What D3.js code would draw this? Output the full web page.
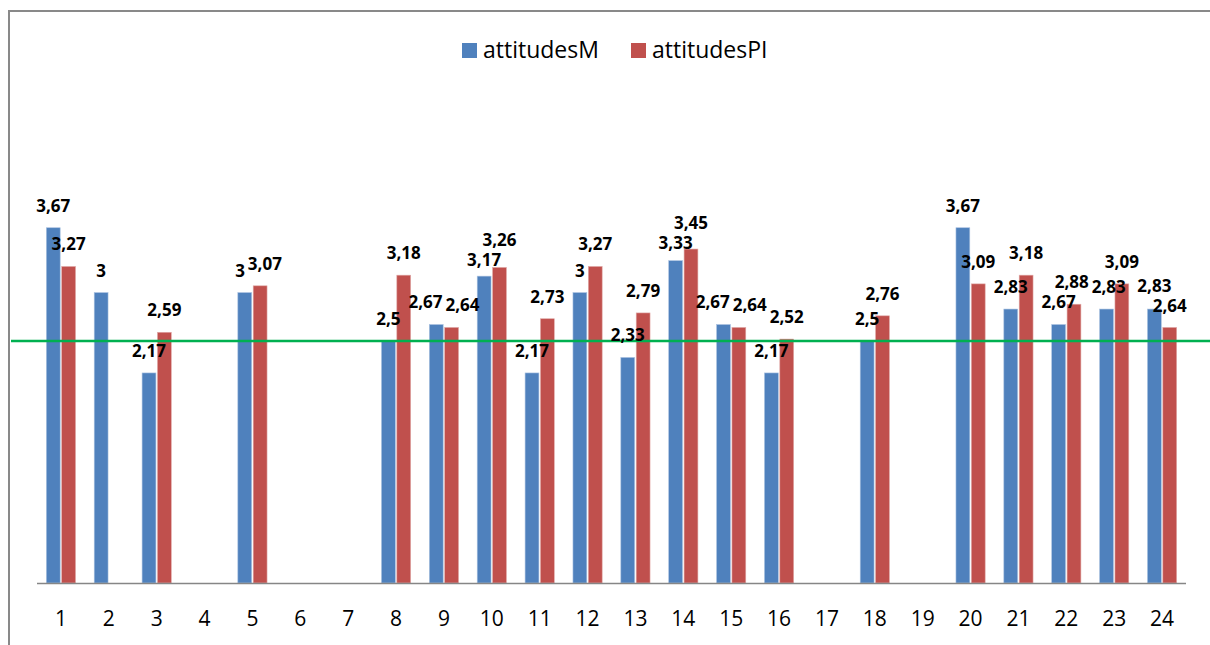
<!DOCTYPE html>
<html>
<head>
<meta charset="utf-8">
<script src="https://cdn.jsdelivr.net/npm/d3@7"></script>
<style>
  body { margin: 0; background: #fff; }
  svg { display: block; }
  .tick-label { font-family: "Open Sans", sans-serif; font-size: 21px; fill: #000; }
  .val-label { font-family: "Open Sans", sans-serif; font-size: 17px; font-weight: bold; fill: #000; }
  .legend-text { font-family: "Open Sans", sans-serif; font-size: 23px; fill: #000; }
</style>
</head>
<body>
<svg id="chart"></svg>
<script>
// categories and series (null = no bar)
const categories = ["1","2","3","4","5","6","7","8","9","10","11","12","13","14","15","16","17","18","19","20","21","22","23","24"];
const attitudesM  = [3.67, 3, 2.17, null, 3, null, null, 2.5, 2.67, 3.17, 2.17, 3, 2.33, 3.33, 2.67, 2.17, null, 2.5, null, 3.67, 2.83, 2.67, 2.83, 2.83];
const attitudesPI = [3.27, null, 2.59, null, 3.07, null, null, 3.18, 2.64, 3.26, 2.73, 3.27, 2.79, 3.45, 2.64, 2.52, null, 2.76, null, 3.09, 3.18, 2.88, 3.09, 2.64];
const seriesNames = ["attitudesM", "attitudesPI"];
const seriesColors = ["#4F81BD", "#C0504D"];
const refValue = 2.5;
const yMax = 6;

const width = 1210, height = 645;
const svg = d3.select("#chart").attr("width", width).attr("height", height);

// plot area
const left = 37, right = 1186, baseY = 583;
const pxPerUnit = 96.8;

const x = d3.scaleBand().domain(categories).range([left, right]).paddingInner(0.39).paddingOuter(0.195);
const xs = d3.scaleBand().domain(seriesNames).range([0, x.bandwidth()]).paddingInner(0.1);
const y = d3.scaleLinear().domain([0, yMax]).range([baseY, baseY - yMax * pxPerUnit]);

// chart frame (only left and top edges visible in the crop)
svg.append("path")
    .attr("d", `M9,${height} L9,11 L${width},11`)
    .attr("fill", "none")
    .attr("stroke", "#898989")
    .attr("stroke-width", 2);

// build points
const points = [];
categories.forEach((c, i) => {
    [attitudesM, attitudesPI].forEach((arr, s) => {
        if (arr[i] != null) points.push({ cat: c, s: s, v: arr[i] });
    });
});

// bars
svg.append("g")
    .selectAll("rect")
    .data(points)
    .enter().append("rect")
    .attr("x", d => x(d.cat) + xs(seriesNames[d.s]))
    .attr("y", d => y(d.v))
    .attr("width", xs.bandwidth())
    .attr("height", d => baseY - y(d.v))
    .attr("fill", d => seriesColors[d.s])
    .attr("stroke", d => d.s === 0 ? "#a9c1e0" : "#e0a9a7")
    .attr("stroke-width", 0.6);

// axis line
svg.append("line")
    .attr("x1", left).attr("x2", right)
    .attr("y1", baseY + 0.5).attr("y2", baseY + 0.5)
    .attr("stroke", "#868686").attr("stroke-width", 1.5);

// category labels
const xAxis = d3.axisBottom(x).tickSize(0).tickPadding(0);
const gx = svg.append("g").attr("transform", `translate(0,${baseY})`).call(xAxis);
gx.select(".domain").remove();
gx.selectAll("text")
    .attr("class", "tick-label")
    .attr("y", 36)
    .attr("dy", "0.35em")
    .attr("font-family", null).attr("font-size", null);

// reference line
svg.append("line")
    .attr("x1", 11).attr("x2", width)
    .attr("y1", y(refValue)).attr("y2", y(refValue))
    .attr("stroke", "#00B050").attr("stroke-width", 2.5);

// value labels
const fmt = v => String(v).replace(".", ",");
const labels = svg.append("g")
    .selectAll("text")
    .data(points)
    .enter().append("text")
    .attr("class", "val-label")
    .attr("text-anchor", "middle")
    .text(d => fmt(d.v));

points.forEach(d => {
    d.lx = x(d.cat) + xs(seriesNames[d.s]) + xs.bandwidth() / 2;
    d.ly = y(d.v) - 22;
});
labels.each(function (d) { d.w = this.getComputedTextLength() + 2; });

// crude label relaxation, a bit like excel does it
const boxH = 19;
for (let it = 0; it < 60; it++) {
    let moved = false;
    for (let i = 0; i < points.length; i++) {
        for (let j = i + 1; j < points.length; j++) {
            const a = points[i], b = points[j];
            const ox = (a.w + b.w) / 2 - Math.abs(b.lx - a.lx);
            const oy = boxH - Math.abs(b.ly - a.ly);
            if (ox <= 0 || oy <= 0) continue;
            moved = true;
            if (ox < oy * 1.3) {
                const s = ox / 2 + 0.5;
                if (a.lx <= b.lx) { a.lx -= s; b.lx += s; } else { a.lx += s; b.lx -= s; }
            } else {
                const s = oy / 2 + 0.5;
                if (a.ly <= b.ly) { a.ly -= s; b.ly += s; } else { a.ly += s; b.ly -= s; }
            }
        }
    }
    if (!moved) break;
}

labels
    .attr("x", d => d.lx)
    .attr("y", d => d.ly)
    .attr("dy", "0.35em");

// legend
const legend = svg.append("g");
const legendX = [462, 631];
seriesNames.forEach((n, i) => {
    legend.append("rect")
        .attr("x", legendX[i]).attr("y", 43)
        .attr("width", 15).attr("height", 15)
        .attr("fill", seriesColors[i]);
    legend.append("text")
        .attr("class", "legend-text")
        .attr("x", legendX[i] + 21).attr("y", 50)
        .attr("dy", "0.35em")
        .text(n);
});
</script>
</body>
</html>
